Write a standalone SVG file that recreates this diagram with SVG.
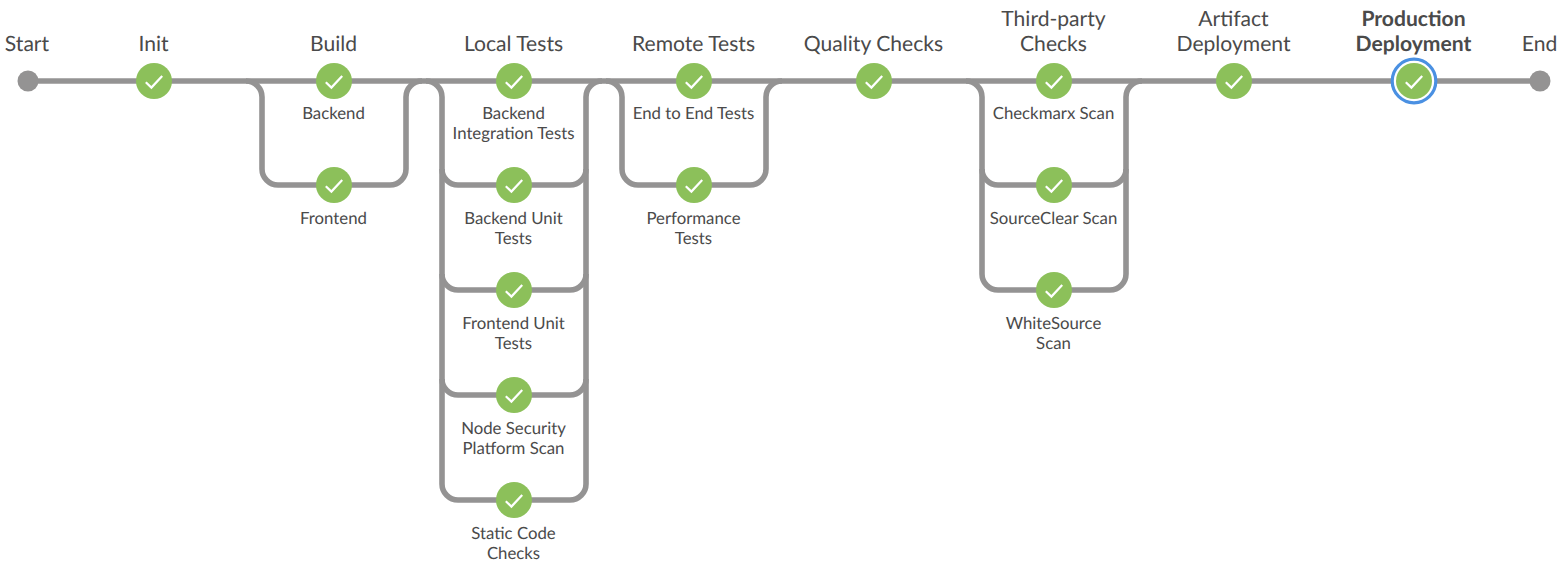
<svg xmlns="http://www.w3.org/2000/svg" width="1568" height="573" viewBox="0 0 1568 573">
<style>
.c{fill:none;stroke:#949393;stroke-width:5.6}
.s{fill:#949393}
.b{fill:#8cc05a}
.k{fill:none;stroke:#fff;stroke-width:2.2}
.r{fill:none;stroke:#4a90e2;stroke-width:3.2}
text{font-family:Lato,"Liberation Sans",sans-serif;fill:#4a4a4a;text-anchor:middle;text-rendering:geometricPrecision;transform:translateX(-.5px)}
.h{font-size:21.1px}
.l{font-size:16.8px}
.bold{font-weight:700}
</style>
<defs>
<g id="ok"><circle class="b" r="18"/><path class="k" d="M-8.2,1.2 L-2.6,6.6 L8.2,-5"/></g>
</defs>
<rect width="1568" height="573" fill="#fff"/>
<g id="connectors">
<path class="c" d="M28,81H1540"/>
<path class="c" d="M246,81a16,16 0 0 1 16,16V169a16,16 0 0 0 16,16H390a16,16 0 0 0 16,-16V97a16,16 0 0 1 16,-16"/>
<path class="c" d="M426,81a16,16 0 0 1 16,16V169a16,16 0 0 0 16,16H570a16,16 0 0 0 16,-16V97a16,16 0 0 1 16,-16"/>
<path class="c" d="M442,169V274a16,16 0 0 0 16,16H570a16,16 0 0 0 16,-16V169"/>
<path class="c" d="M442,274V379a16,16 0 0 0 16,16H570a16,16 0 0 0 16,-16V274"/>
<path class="c" d="M442,379V484a16,16 0 0 0 16,16H570a16,16 0 0 0 16,-16V379"/>
<path class="c" d="M606,81a16,16 0 0 1 16,16V169a16,16 0 0 0 16,16H750a16,16 0 0 0 16,-16V97a16,16 0 0 1 16,-16"/>
<path class="c" d="M966,81a16,16 0 0 1 16,16V169a16,16 0 0 0 16,16H1110a16,16 0 0 0 16,-16V97a16,16 0 0 1 16,-16"/>
<path class="c" d="M982,169V274a16,16 0 0 0 16,16H1110a16,16 0 0 0 16,-16V169"/>
</g>
<g id="start"><circle class="s" cx="28" cy="81" r="10.5"/><text class="h" x="27.5" y="51">Start</text></g>
<g id="init"><use href="#ok" x="154" y="81"/><text class="h" x="154" y="51">Init</text></g>
<g id="build"><use href="#ok" x="334" y="81"/><text class="h" x="334" y="51">Build</text><text class="l" x="334" y="119">Backend</text></g>
<g id="frontend"><use href="#ok" x="334" y="185"/><text class="l" x="334" y="224">Frontend</text></g>
<g id="local-tests"><use href="#ok" x="514" y="81"/><text class="h" x="514" y="51">Local Tests</text><text class="l" x="514" y="119">Backend</text><text class="l" x="514" y="139">Integration Tests</text></g>
<g id="backend-unit"><use href="#ok" x="514" y="185"/><text class="l" x="514" y="224">Backend Unit</text><text class="l" x="514" y="244">Tests</text></g>
<g id="frontend-unit"><use href="#ok" x="514" y="290"/><text class="l" x="514" y="329">Frontend Unit</text><text class="l" x="514" y="349">Tests</text></g>
<g id="node-security"><use href="#ok" x="514" y="395"/><text class="l" x="514" y="434">Node Security</text><text class="l" x="514" y="454">Platform Scan</text></g>
<g id="static-code"><use href="#ok" x="514" y="500"/><text class="l" x="514" y="539">Static Code</text><text class="l" x="514" y="559">Checks</text></g>
<g id="remote-tests"><use href="#ok" x="694" y="81"/><text class="h" x="694" y="51">Remote Tests</text><text class="l" x="694" y="119">End to End Tests</text></g>
<g id="performance"><use href="#ok" x="694" y="185"/><text class="l" x="694" y="224">Performance</text><text class="l" x="694" y="244">Tests</text></g>
<g id="quality"><use href="#ok" x="874" y="81"/><text class="h" x="874" y="51">Quality Checks</text></g>
<g id="third-party"><use href="#ok" x="1054" y="81"/><text class="h" x="1054" y="26">Third-party</text><text class="h" x="1054" y="51">Checks</text><text class="l" x="1054" y="119">Checkmarx Scan</text></g>
<g id="sourceclear"><use href="#ok" x="1054" y="185"/><text class="l" x="1054" y="224">SourceClear Scan</text></g>
<g id="whitesource"><use href="#ok" x="1054" y="290"/><text class="l" x="1054" y="329">WhiteSource</text><text class="l" x="1054" y="349">Scan</text></g>
<g id="artifact"><use href="#ok" x="1234" y="81"/><text class="h" x="1234" y="26">Artifact</text><text class="h" x="1234" y="51">Deployment</text></g>
<g id="production"><circle cx="1414" cy="81" r="21.5" fill="#fff"/><circle class="r" cx="1414" cy="81" r="21.8"/><use href="#ok" x="1414" y="81"/><text class="h bold" x="1414" y="26">Production</text><text class="h bold" x="1414" y="51">Deployment</text></g>
<g id="end"><circle class="s" cx="1540" cy="81" r="10.5"/><text class="h" x="1540" y="51">End</text></g>
</svg>
